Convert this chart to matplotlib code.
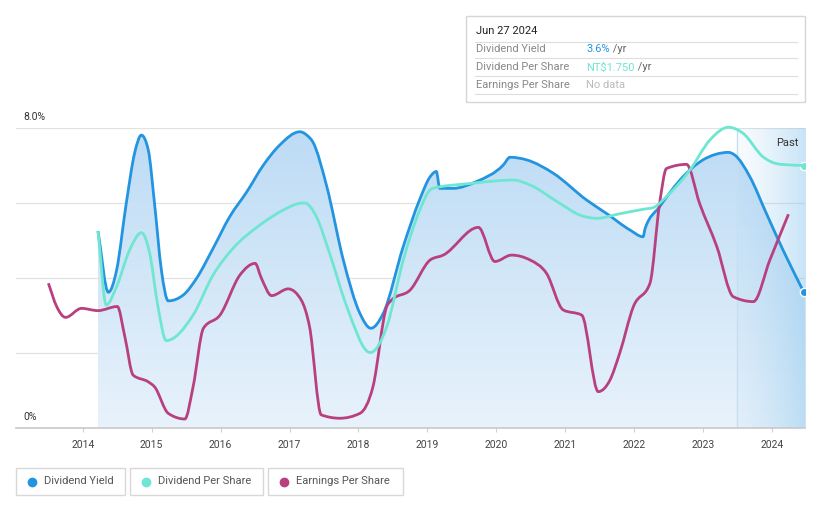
#!/usr/bin/env python3
import numpy as np
import matplotlib
matplotlib.use('Agg')
import matplotlib.pyplot as plt
from matplotlib.patches import Rectangle, PathPatch
from matplotlib.path import Path

plt.rcParams['font.family'] = ['Roboto', 'DejaVu Sans']

## dividend yield (%)
dy_year = [2014.22, 2014.37, 2014.49, 2014.63, 2014.75, 2014.85, 2014.95, 2015.04, 2015.14,
           2015.24, 2015.46, 2015.65, 2015.89, 2016.13, 2016.38, 2016.62, 2016.86, 2017.15,
           2017.25, 2017.34, 2017.54,
           2017.78, 2018.02, 2018.18, 2018.36, 2018.65, 2018.89, 2019.04, 2019.13, 2019.18,
           2019.37, 2019.71, 2020.10, 2020.20, 2020.44, 2020.83, 2021.31, 2021.60, 2021.94,
           2022.13, 2022.16, 2022.37, 2022.71, 2023.00, 2023.37, 2023.46, 2023.68, 2023.92,
           2024.16, 2024.46]
dy_val  = [5.25, 3.62, 4.21, 5.99, 7.32, 7.81, 7.41, 5.99, 4.21,
           3.39, 3.55, 3.99, 4.79, 5.63, 6.30, 7.01, 7.55, 7.90,
           7.81, 7.62, 6.44,
           4.48, 3.06, 2.66, 3.06, 4.84, 6.10, 6.70, 6.84, 6.39,
           6.39, 6.57, 7.01, 7.22, 7.15, 6.79, 6.08, 5.72, 5.28,
           5.10, 5.32, 5.90, 6.70, 7.15, 7.35, 7.28, 6.70, 5.72,
           4.75, 3.63]

## dividend per share (NT$)
dps_year = [2014.22, 2014.34, 2014.49, 2014.68, 2014.85, 2014.97, 2015.09, 2015.21, 2015.60,
            2015.89, 2016.18, 2016.57, 2016.91, 2017.15, 2017.22, 2017.39, 2017.58, 2017.83,
            2018.17, 2018.41, 2018.65, 2018.89, 2019.04, 2019.08, 2019.62, 2020.25, 2020.49,
            2020.92, 2021.21, 2021.46, 2021.79, 2022.13, 2022.28, 2022.47, 2022.81, 2023.10,
            2023.37, 2023.58, 2023.87, 2024.12, 2024.46]
dps_val  = [1.312, 0.820, 0.943, 1.188, 1.302, 1.165, 0.810, 0.583, 0.753,
            1.020, 1.198, 1.353, 1.453, 1.498, 1.500, 1.408, 1.165, 0.810,
            0.503, 0.675, 1.120, 1.453, 1.588, 1.598, 1.630, 1.653, 1.620,
            1.498, 1.420, 1.398, 1.428, 1.458, 1.470, 1.543, 1.720, 1.920,
            2.005, 1.965, 1.808, 1.758, 1.750]

## earnings per share (no scale shown, chart units)
eps_year = [2013.50, 2013.62, 2013.75, 2013.98, 2014.22, 2014.50, 2014.61, 2014.73, 2014.95,
            2015.04, 2015.24, 2015.48, 2015.60, 2015.75, 2015.99, 2016.28, 2016.50, 2016.59,
            2016.74, 2016.98, 2017.17, 2017.29, 2017.46, 2017.73, 2018.02, 2018.21, 2018.41,
            2018.48, 2018.75, 2019.04, 2019.23, 2019.74, 2019.98, 2020.22, 2020.49, 2020.73,
            2020.97, 2021.24, 2021.48, 2021.65, 2021.79, 2021.99, 2022.23, 2022.37, 2022.47,
            2022.76, 2022.95, 2023.20, 2023.44, 2023.73, 2023.97, 2024.24]
eps_val  = [3.86, 3.24, 2.95, 3.19, 3.13, 3.24, 2.43, 1.41, 1.23,
            1.10, 0.39, 0.24, 1.10, 2.66, 3.01, 4.08, 4.39, 4.00,
            3.53, 3.71, 3.41, 2.70, 0.35, 0.26, 0.39, 1.10, 3.24,
            3.41, 3.68, 4.48, 4.61, 5.35, 4.44, 4.61, 4.48, 4.12,
            3.15, 3.01, 0.97, 1.28, 1.99, 3.24, 3.86, 5.99, 6.92,
            7.03, 5.99, 4.84, 3.50, 3.37, 4.48, 5.70]

years      = list(range(2014, 2025))
past_start = 2023.49
x_end      = 2024.48

C_DY  = '#2394df'
C_DPS = '#6ee6d2'
C_EPS = '#b8407f'

def monotone_path(x, y):
    # monotone-x cubic bezier through the points (like d3 curveMonotoneX)
    x = np.asarray(x, float); y = np.asarray(y, float)
    h = np.diff(x); s = np.diff(y) / h
    m = np.zeros(len(x))
    m[0], m[-1] = s[0], s[-1]
    for i in range(1, len(x) - 1):
        if s[i-1] * s[i] <= 0:
            m[i] = 0
        else:
            p = (s[i-1] * h[i] + s[i] * h[i-1]) / (h[i-1] + h[i])
            m[i] = np.sign(s[i]) * min(abs(p), 2*abs(s[i-1]), 2*abs(s[i]))
    verts = [(x[0], y[0])]; codes = [Path.MOVETO]
    for i in range(len(x) - 1):
        d = h[i] / 3
        verts += [(x[i] + d, y[i] + m[i]*d), (x[i+1] - d, y[i+1] - m[i+1]*d), (x[i+1], y[i+1])]
        codes += [Path.CURVE4] * 3
    return verts, codes

fig = plt.figure(figsize=(8.21, 5.08), dpi=100)
ax = fig.add_axes([16/821, 80/508, 789/821, 300/508])
for s in ax.spines.values():
    s.set_visible(False)
ax.set_yticks([])
ax.set_xticks(years)
ax.set_xticklabels([str(y) for y in years], fontsize=7.5, color='#444444')
ax.tick_params(axis='x', length=3, color='#d0d0d0', pad=6)
for g in [2, 4, 6, 8]:
    ax.axhline(g, color='#e2e2e2', lw=0.9, zorder=1)
ax.axhline(0, color='#c8c8c8', lw=1.2, zorder=6, clip_on=False)

## gradient fill below dividend yield
v, c = monotone_path(dy_year, dy_val)
v = [(dy_year[0], 0)] + v + [(x_end, dy_val[-1]), (x_end, 0), (dy_year[0], 0)]
c = [Path.MOVETO, Path.LINETO] + c[1:] + [Path.LINETO, Path.LINETO, Path.CLOSEPOLY]
clip = PathPatch(Path(v, c), facecolor='none', edgecolor='none', transform=ax.transData)
ax.add_patch(clip)
grad = np.linspace(0, 1, 256).reshape(-1, 1)
top = np.array([0.74, 0.86, 0.96])
bot = np.array([0.91, 0.95, 0.985])
img = top[None, None, :] * (1 - grad[:, :, None]) + bot[None, None, :] * grad[:, :, None]
im = ax.imshow(img, extent=[dy_year[0], x_end, 0, 8], aspect='auto', zorder=2)
im.set_clip_path(clip)

## past region
hh = np.linspace(0, 1, 256)
ov = np.zeros((2, 256, 4))
ov[..., 0], ov[..., 1], ov[..., 2] = 0.55, 0.78, 0.93
ov[..., 3] = 0.06 + 0.42 * hh ** 1.3
ax.imshow(ov, extent=[past_start, x_end, 0, 8], aspect='auto', zorder=3, origin='lower')
ax.axvline(past_start, color='#c5dff2', lw=1, zorder=3)
ax.set_xlim(2013.03, x_end)
ax.set_ylim(0, 8)
ax.text(2024.38, 7.6, 'Past', fontsize=8, color='#333333', ha='right', va='center', zorder=7)

## lines
v, c = monotone_path(dy_year, dy_val)
ax.add_patch(PathPatch(Path(v, c), facecolor='none', edgecolor=C_DY, lw=2.0, zorder=5))
v, c = monotone_path(eps_year, eps_val)
ax.add_patch(PathPatch(Path(v, c), facecolor='none', edgecolor=C_EPS, lw=2.0, zorder=5,
                       clip_on=False))
ax2 = ax.twinx()
ax2.set_ylim(0, 2.0)
ax2.axis('off')
v, c = monotone_path(dps_year, dps_val)
ax2.add_patch(PathPatch(Path(v, c), facecolor='none', edgecolor=C_DPS, lw=2.0, zorder=4,
                        clip_on=False))
ax2.plot(dps_year[-1], dps_val[-1], 'o', color=C_DPS, ms=6, mec='white', mew=1)
ax2.plot(dy_year[-1], dy_val[-1] / 4, 'o', color=C_DY, ms=6, mec='white', mew=1)
ax2.set_xlim(2013.03, x_end)

## y labels
ax.text(2013.14, 8.15, '8.0%', fontsize=7.5, color='#333333', va='bottom', ha='left')
ax.text(2013.14, 0.15, '0%', fontsize=7.5, color='#333333', va='bottom', ha='left')

## tooltip box
W, H = 821, 508
def fx(px): return px / W
def fy(py): return 1 - py / H
fig.patches.append(Rectangle((fx(466), fy(102)), fx(805) - fx(466), fy(16) - fy(102),
                             transform=fig.transFigure, facecolor='white',
                             edgecolor='#d6d6d6', lw=1))
fig.text(fx(476), fy(31), 'Jun 27 2024', fontsize=8, color='#222222', va='center')
for ly in [42, 58, 76, 94]:
    fig.lines.append(plt.Line2D([fx(475), fx(797)], [fy(ly), fy(ly)],
                                transform=fig.transFigure, color='#dddddd', lw=0.8))
rows = [('Dividend Yield', '3.6%', C_DY, ' /yr'),
        ('Dividend Per Share', 'NT$1.750', C_DPS, ' /yr'),
        ('Earnings Per Share', 'No data', '#bbbbbb', '')]
for i, (lab, val, col, suf) in enumerate(rows):
    yy = fy(49.5 + 18 * i)
    fig.text(fx(476), yy, lab, fontsize=8, color='#888888', va='center')
    t = fig.text(fx(586), yy, val, fontsize=8, color=col, va='center')
    if suf:
        fig.canvas.draw()
        bb = t.get_window_extent()
        fig.text(bb.x1 / W, yy, suf, fontsize=8, color='#666666', va='center')

## legend boxes
legend = [('Dividend Yield', C_DY, 16, 125), ('Dividend Per Share', C_DPS, 130, 263),
          ('Earnings Per Share', C_EPS, 268, 403)]
for lab, col, x0, x1 in legend:
    fig.patches.append(Rectangle((fx(x0), fy(495)), fx(x1) - fx(x0), fy(468) - fy(495),
                                 transform=fig.transFigure, facecolor='white',
                                 edgecolor='#d8d8d8', lw=1))
    fig.lines.append(plt.Line2D([fx(x0 + 16)], [fy(481.5)], marker='o', ms=6,
                                color=col, transform=fig.transFigure))
    fig.text(fx(x0 + 28), fy(481.5), lab, fontsize=8, color='#555555', va='center')

fig.savefig('out.png', dpi=100)
